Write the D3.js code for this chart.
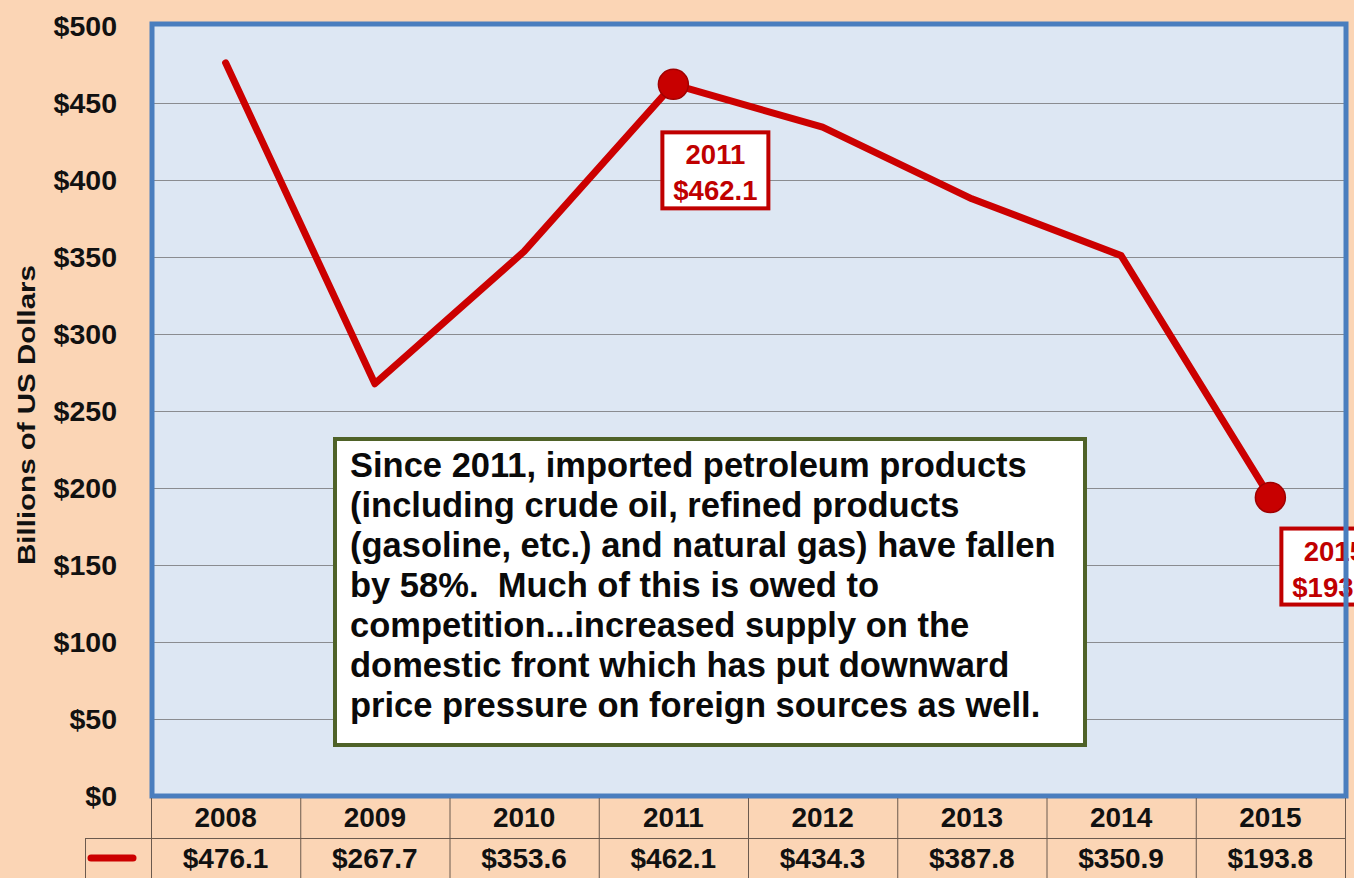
<!DOCTYPE html>
<html>
<head>
<meta charset="utf-8">
<script src="https://cdn.jsdelivr.net/npm/d3@7"></script>
<style>
  html, body { margin: 0; padding: 0; background: #FBD5B5; }
  svg { display: block; }
  text { font-family: "Liberation Sans", Arial, sans-serif; font-weight: bold; }
  .note { white-space: pre; }
</style>
</head>
<body>
<svg id="chart" width="1354" height="878"></svg>
<script>
// ---- data ----
const years = ["2008", "2009", "2010", "2011", "2012", "2013", "2014", "2015"];
const values = [476.1, 267.7, 353.6, 462.1, 434.3, 387.8, 350.9, 193.8];
const valueLabels = ["$476.1", "$267.7", "$353.6", "$462.1", "$434.3", "$387.8", "$350.9", "$193.8"];
const yTicks = [0, 50, 100, 150, 200, 250, 300, 350, 400, 450, 500];
const highlighted = ["2011", "2015"];
const yTitle = "Billions of US Dollars";
const noteLines = [
  "Since 2011, imported petroleum products",
  "(including crude oil, refined products",
  "(gasoline, etc.) and natural gas) have fallen",
  "by 58%.  Much of this is owed to",
  "competition...increased supply on the",
  "domestic front which has put downward",
  "price pressure on foreign sources as well."
];

// ---- layout ----
const W = 1354, H = 878;
const plot = { left: 151, right: 1345, top: 26, bottom: 796 };
const svg = d3.select("#chart");

const x = d3.scaleBand().domain(years).range([plot.left, plot.right]).padding(0);
const y = d3.scaleLinear().domain([0, 500]).range([plot.bottom, plot.top]);

// background
svg.append("rect").attr("width", W).attr("height", H).attr("fill", "#FBD5B5");

// plot area fill
svg.append("rect")
  .attr("x", plot.left).attr("y", plot.top - 2)
  .attr("width", plot.right - plot.left).attr("height", plot.bottom - plot.top + 2)
  .attr("fill", "#DDE7F3");

// gridlines
svg.append("g").selectAll("line")
  .data(yTicks.filter(d => d > 0 && d < 500))
  .join("line")
  .attr("x1", plot.left).attr("x2", plot.right)
  .attr("y1", d => Math.round(y(d)) + 0.5).attr("y2", d => Math.round(y(d)) + 0.5)
  .attr("stroke", "#8A8C90").attr("stroke-width", 1.2);

// y tick labels
svg.append("g").selectAll("text")
  .data(yTicks)
  .join("text")
  .attr("x", 117).attr("y", d => y(d))
  .attr("dy", "0.36em")
  .attr("text-anchor", "end")
  .attr("font-size", 28.5)
  .attr("fill", "#111")
  .text(d => "$" + d);

// y axis title
svg.append("text")
  .attr("transform", `translate(35, ${(plot.top + plot.bottom) / 2 + 4}) rotate(-90)`)
  .attr("text-anchor", "middle")
  .attr("font-size", 24)
  .attr("textLength", 300).attr("lengthAdjust", "spacingAndGlyphs")
  .attr("fill", "#111")
  .text(yTitle);

// annotation box
const note = { x: 335, y: 439, w: 750, h: 306 };
svg.append("rect")
  .attr("x", note.x).attr("y", note.y).attr("width", note.w).attr("height", note.h)
  .attr("fill", "#FFFFFF").attr("stroke", "#4F6228").attr("stroke-width", 4);
svg.append("g").selectAll("text")
  .data(noteLines)
  .join("text")
  .attr("class", "note")
  .attr("x", 350).attr("y", (d, i) => 477 + i * 40)
  .attr("font-size", 34.5)
  .attr("fill", "#0A0A0A")
  .text(d => d);

// data line
const pts = years.map((yr, i) => ({ year: yr, value: values[i], label: valueLabels[i] }));
const line = d3.line()
  .x(d => x(d.year) + x.bandwidth() / 2)
  .y(d => y(d.value));
svg.append("path")
  .datum(pts)
  .attr("d", line)
  .attr("fill", "none")
  .attr("stroke", "#CC0000")
  .attr("stroke-width", 7)
  .attr("stroke-linejoin", "round")
  .attr("stroke-linecap", "round");

// markers for highlighted points
const hp = pts.filter(d => highlighted.includes(d.year));
svg.append("g").selectAll("circle")
  .data(hp)
  .join("circle")
  .attr("cx", d => x(d.year) + x.bandwidth() / 2)
  .attr("cy", d => y(d.value))
  .attr("r", 15)
  .attr("fill", "#C80000")
  .attr("stroke", "#A00000")
  .attr("stroke-width", 1.5);

// callout labels
const labelOffsets = { "2011": { dx: 42, dy: 46 }, "2015": { dx: 64, dy: 29 } };
const lab = svg.append("g").selectAll("g")
  .data(hp)
  .join("g")
  .attr("transform", d => {
    const o = labelOffsets[d.year];
    return `translate(${x(d.year) + x.bandwidth() / 2 + o.dx}, ${y(d.value) + o.dy})`;
  });
lab.append("rect")
  .attr("x", -53).attr("y", 2).attr("width", 106).attr("height", 76)
  .attr("fill", "#FFFFFF").attr("stroke", "#C00000").attr("stroke-width", 4);
lab.append("text")
  .attr("x", 0).attr("y", 34)
  .attr("text-anchor", "middle").attr("font-size", 27.5).attr("fill", "#C00000")
  .text(d => d.year);
lab.append("text")
  .attr("x", 0).attr("y", 70)
  .attr("text-anchor", "middle").attr("font-size", 27.5).attr("fill", "#C00000")
  .text(d => d.label);

// plot frame
svg.append("rect")
  .attr("x", plot.left + 1).attr("y", plot.top - 2)
  .attr("width", plot.right - plot.left).attr("height", plot.bottom - plot.top + 2)
  .attr("fill", "none")
  .attr("stroke", "#4A7EBE").attr("stroke-width", 5);

// data table
const rowTop = 798, rowMid = 838, rowBot = 878;
const tbl = svg.append("g");
tbl.append("line")
  .attr("x1", 85).attr("x2", plot.right).attr("y1", rowMid + 0.5).attr("y2", rowMid + 0.5)
  .attr("stroke", "#6B5A4E").attr("stroke-width", 1);
tbl.append("line")
  .attr("x1", 85.5).attr("x2", 85.5).attr("y1", rowMid).attr("y2", rowBot)
  .attr("stroke", "#6B5A4E").attr("stroke-width", 1);
tbl.selectAll("line.v")
  .data(years.concat(["end"]))
  .join("line")
  .attr("class", "v")
  .attr("x1", (d, i) => (i < years.length ? x(d) : plot.right) + 0.5)
  .attr("x2", (d, i) => (i < years.length ? x(d) : plot.right) + 0.5)
  .attr("y1", rowTop).attr("y2", rowBot)
  .attr("stroke", "#6B5A4E").attr("stroke-width", 1);
tbl.selectAll("text.yr")
  .data(years)
  .join("text")
  .attr("class", "yr")
  .attr("x", d => x(d) + x.bandwidth() / 2).attr("y", 827)
  .attr("text-anchor", "middle").attr("font-size", 28).attr("fill", "#111")
  .text(d => d);
tbl.selectAll("text.val")
  .data(pts)
  .join("text")
  .attr("class", "val")
  .attr("x", d => x(d.year) + x.bandwidth() / 2).attr("y", 868)
  .attr("text-anchor", "middle").attr("font-size", 28).attr("fill", "#111")
  .text(d => d.label);
// legend key
tbl.append("line")
  .attr("x1", 91).attr("x2", 133).attr("y1", 858).attr("y2", 858)
  .attr("stroke", "#CC0000").attr("stroke-width", 7).attr("stroke-linecap", "round");
</script>
</body>
</html>
